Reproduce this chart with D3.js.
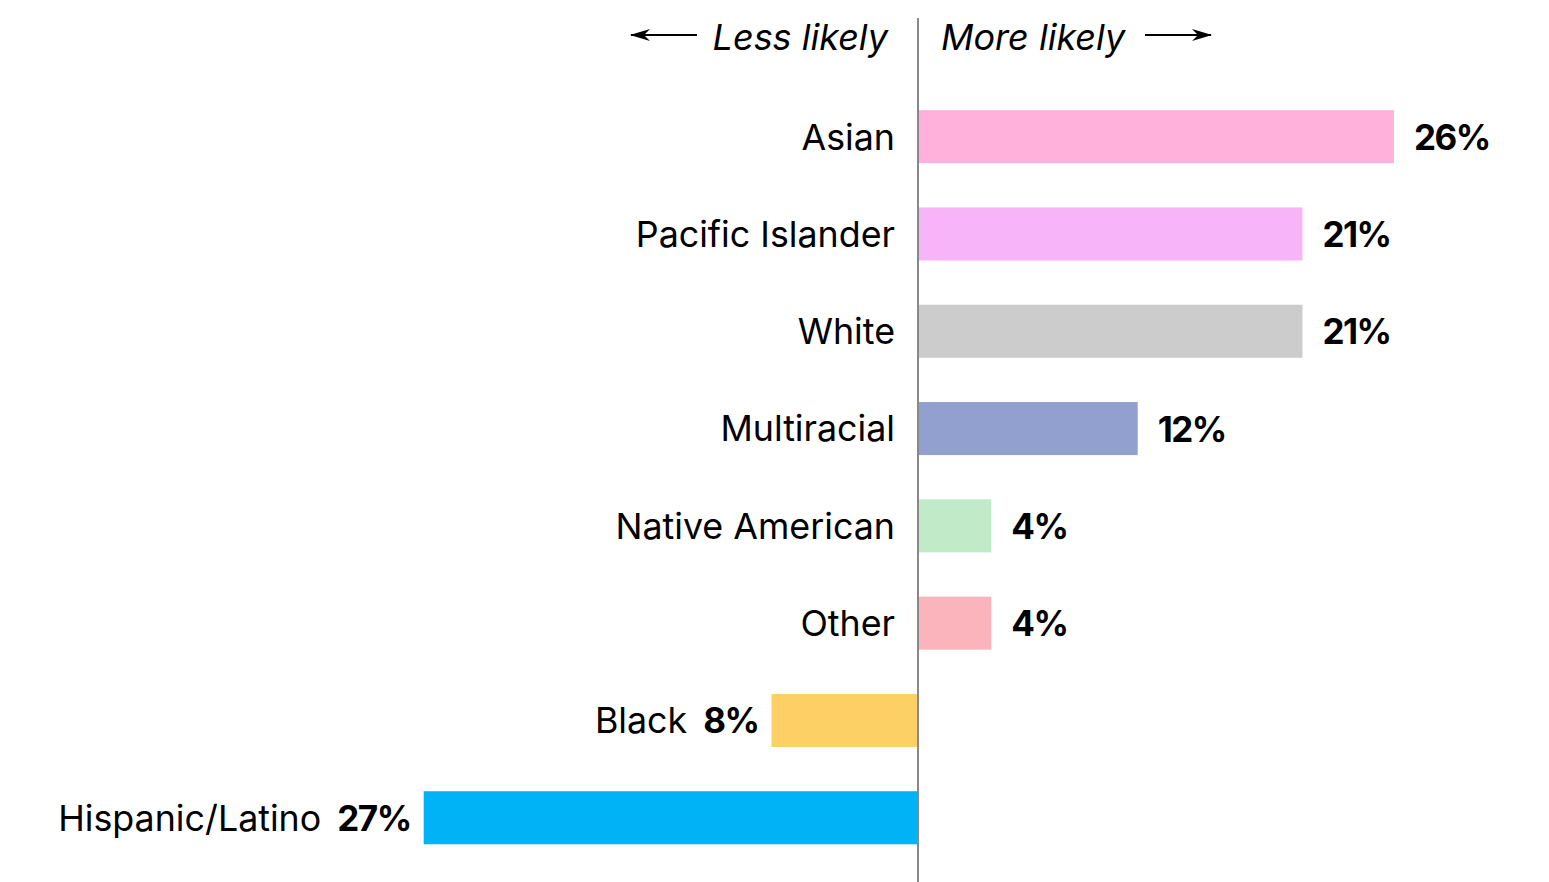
<!DOCTYPE html>
<html>
<head>
<meta charset="utf-8">
<script src="https://cdn.jsdelivr.net/npm/d3@7"></script>
<style>
  body { margin: 0; background: #fff; }
  svg text { font-family: Inter, "Noto Sans", sans-serif; fill: #000; }
</style>
</head>
<body>
<div id="chart"></div>
<script>
// categories and values (percentage point difference)
var categories = ["Asian", "Pacific Islander", "White", "Multiracial", "Native American", "Other", "Black", "Hispanic/Latino"];
var values = [26, 21, 21, 12, 4, 4, -8, -27];
var colors = ["#ffb1db", "#f8b4f8", "#cccccc", "#91a0cf", "#c0eac8", "#fbb4bc", "#fdd066", "#00b2f6"];

var width = 1549, height = 882;

var svg = d3.select("#chart")
    .append("svg")
    .attr("width", width)
    .attr("height", height);

var data = categories.map(function (c, i) {
    return {name: c, value: values[i], color: colors[i]};
});

// x: 0 sits at the centre line, ~18.3px per point
var x = d3.scaleLinear()
    .domain([0, 26])
    .range([918, 1394]);

var y = d3.scaleBand()
    .domain(categories)
    .range([88, 866.4])
    .paddingInner(0.455)
    .paddingOuter(0.2275);

// bars
svg.selectAll("rect.bar")
    .data(data)
    .join("rect")
    .attr("class", "bar")
    .attr("x", d => Math.min(x(0), x(d.value)))
    .attr("y", d => y(d.name))
    .attr("width", d => Math.abs(x(d.value) - x(0)))
    .attr("height", y.bandwidth())
    .attr("fill", d => d.color);

// centre line
svg.append("line")
    .attr("x1", x(0)).attr("x2", x(0))
    .attr("y1", 18).attr("y2", height)
    .attr("stroke", "#888")
    .attr("stroke-width", 2);

var pos = data.filter(d => d.value >= 0),
    neg = data.filter(d => d.value < 0);

// labels for positive bars, left of the line
svg.selectAll("text.cat")
    .data(pos)
    .join("text")
    .attr("class", "cat")
    .attr("x", x(0) - 23)
    .attr("y", d => y(d.name) + y.bandwidth() / 2)
    .attr("dy", "0.36em")
    .attr("text-anchor", "end")
    .style("font-size", "35.8px")
    .text(d => d.name);

svg.selectAll("text.val")
    .data(pos)
    .join("text")
    .attr("class", "val")
    .attr("x", d => x(d.value) + 20)
    .attr("y", d => y(d.name) + y.bandwidth() / 2)
    .attr("dy", "0.37em")
    .style("font-size", "35px")
    .style("font-weight", "bold")
    .style("letter-spacing", "-1.5px")
    .text(d => d.value + "%");

// negative bars: name then value, both left of the bar
var negVal = svg.selectAll("text.negval")
    .data(neg)
    .join("text")
    .attr("class", "negval")
    .attr("x", d => x(d.value) - 13)
    .attr("y", d => y(d.name) + y.bandwidth() / 2)
    .attr("dy", "0.37em")
    .attr("text-anchor", "end")
    .style("font-size", "35px")
    .style("font-weight", "bold")
    .style("letter-spacing", "-1.5px")
    .text(d => Math.abs(d.value) + "%");

negVal.each(function (d) { d.valW = this.getComputedTextLength(); });

svg.selectAll("text.negcat")
    .data(neg)
    .join("text")
    .attr("class", "negcat")
    .attr("x", d => x(d.value) - 13 - d.valW - 16)
    .attr("y", d => y(d.name) + y.bandwidth() / 2)
    .attr("dy", "0.36em")
    .attr("text-anchor", "end")
    .style("font-size", "35.8px")
    .text(d => d.name);

// header
svg.append("text")
    .attr("x", x(0) - 30)
    .attr("y", 37)
    .attr("dy", "0.35em")
    .attr("text-anchor", "end")
    .style("font-size", "36px")
    .style("font-style", "italic")
    .text("Less likely");
svg.append("text")
    .attr("x", x(0) + 23)
    .attr("y", 37)
    .attr("dy", "0.35em")
    .style("font-size", "36px")
    .style("font-style", "italic")
    .text("More likely");

svg.append("defs").append("marker")
    .attr("id", "arrow")
    .attr("viewBox", "0 0 20 12")
    .attr("refX", 19).attr("refY", 6)
    .attr("markerWidth", 20).attr("markerHeight", 12)
    .attr("markerUnits", "userSpaceOnUse")
    .attr("orient", "auto")
    .append("path")
    .attr("d", "M0,0 L20,6 L0,12 L6,6 Z")
    .attr("fill", "#000");

svg.append("line")
    .attr("x1", 697).attr("x2", 631)
    .attr("y1", 35).attr("y2", 35)
    .attr("stroke", "#000").attr("stroke-width", 2)
    .attr("marker-end", "url(#arrow)");
svg.append("line")
    .attr("x1", 1145).attr("x2", 1211)
    .attr("y1", 35).attr("y2", 35)
    .attr("stroke", "#000").attr("stroke-width", 2)
    .attr("marker-end", "url(#arrow)");
</script>
</body>
</html>
